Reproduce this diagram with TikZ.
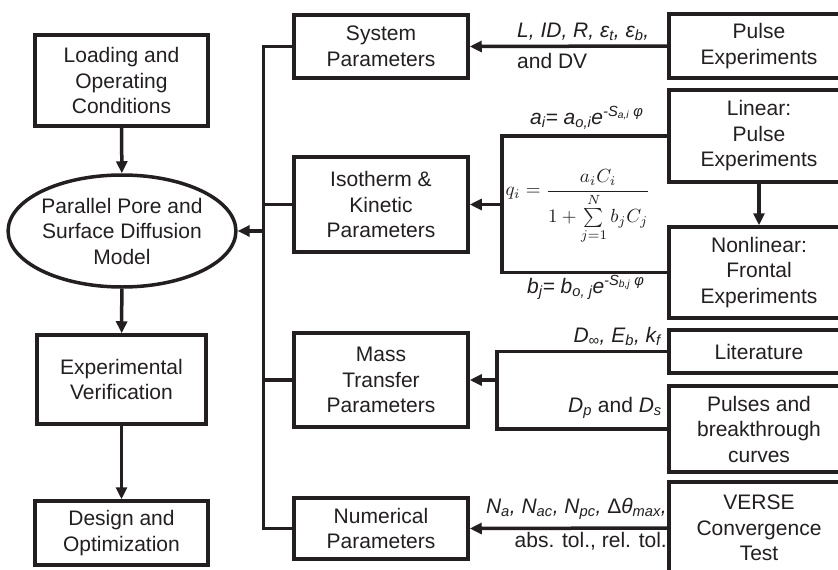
\documentclass[tikz,border=0pt]{standalone}
\usepackage{fontspec}
\setmainfont{Liberation Sans}
\usetikzlibrary{arrows.meta,shapes.geometric}
\definecolor{ink}{HTML}{231F20}
\newcommand\sbs[1]{\textsubscript{#1}}
\newcommand\sps[1]{\textsuperscript{#1}}
\begin{document}
\begin{tikzpicture}[x=1pt,y=-1pt,
  box/.style={draw=ink, line width=3.5pt, rectangle, align=center, inner sep=0pt,
    font=\fontsize{21}{25.5}\selectfont, text=ink},
  oval/.style={box, ellipse},
  conn/.style={draw=ink, line width=3.5pt},
  arr/.style={conn, -{Triangle[length=12pt,width=11pt]}},
  lab/.style={font=\fontsize{21}{25}\selectfont, text=ink, inner sep=0pt}]
\fill[white] (0,0) rectangle (838,570);
\useasboundingbox (0,0) rectangle (838,570);
\clip (0,0) rectangle (838,570);

% left column
\node[box, minimum width=173, minimum height=91] (load) at (121.5,80.5) {Loading and\\Operating\\Conditions};
\node[oval, minimum width=220, minimum height=112] (ppsd) at (122,231) {Parallel Pore and\\Surface Diffusion\\Model};
\node[box, minimum width=169, minimum height=89] (ver) at (121.5,379.5) {Experimental\\Verification};
\node[box, minimum width=173, minimum height=64] (des) at (121.5,533) {Design and\\Optimization};

% parameter boxes
\node[box, minimum width=174, minimum height=63] (sys) at (381,46.5) {System\\Parameters};
\node[box, minimum width=174, minimum height=95] (iso) at (381,204.5) {Isotherm \&\\Kinetic\\Parameters};
\node[box, minimum width=174, minimum height=94] (mass) at (381,380) {Mass\\Transfer\\Parameters};
\node[box, minimum width=174, minimum height=61] (num) at (381,528.5) {Numerical\\Parameters};

% source boxes (cut by the right edge)
\node[box, minimum width=180, minimum height=64] (pulse) at (759,46) {Pulse\\Experiments};
\node[box, minimum width=180, minimum height=92] (lin) at (759,136) {Linear:\\Pulse\\Experiments};
\node[box, minimum width=180, minimum height=91] (nonlin) at (759,272.5) {Nonlinear:\\Frontal\\Experiments};
\node[box, minimum width=180, minimum height=43] (lit) at (759,351.5) {Literature};
\node[box, minimum width=180, minimum height=86] (pbc) at (759,429) {Pulses and\\breakthrough\\curves};
\node[box, minimum width=180, minimum height=92] (verse) at (759,528) {VERSE\\Convergence\\Test};

% left column arrows
\draw[arr] (load) -- (ppsd);
\draw[arr] (ppsd) -- (ver);
\draw[arr] (ver) -- (des);

% bus
\coordinate (busm) at (265,231);
\draw[conn] (sys.west) -- ++(-29,0) |- (num.west);
\draw[conn] (iso.west) -- ++(-29,0);
\draw[conn] (mass.west) -- ++(-29,0);
\draw[arr] (busm) -- (ppsd.east);

% system parameters
\draw[arr] (pulse.west) -- (sys.east);
\node[lab, anchor=base west] (lsysa) at (517,37) {\itshape L, ID, R, ε\sbs{t}, ε\sbs{b},};
\node[lab, anchor=base west] (lsysb) at (517,68) {and DV};

% isotherm bracket
\coordinate (isoj) at (502,204.5);
\draw[conn] (lin.west) -| (isoj) |- (nonlin.west);
\draw[arr] (isoj) -- (iso.east);
\draw[arr] (lin) -- (nonlin);
\node[lab, anchor=base west] (la) at (530,124) {\itshape a\sbs{i}= a\sbs{o,i}e\sps{-S\sbs{a,i} φ}};
\node[lab, anchor=base west] (lb) at (527,293) {\itshape b\sbs{j}= b\sbs{o, j}e\sps{-S\sbs{b,j} φ}};
\node[inner sep=0pt, text=ink] (qform) at (578,207)
  {\scalebox{1.9}{$\displaystyle q_i = \frac{a_iC_i}{1+\sum\limits_{j=1}^{N} b_jC_j}$}};

% mass transfer bracket
\coordinate (massj) at (497,380);
\draw[conn] (lit.west) -| (massj) |- (pbc.west);
\draw[arr] (massj) -- (mass.east);
\node[lab, anchor=base east] (ld) at (661,342) {\itshape D\sbs{∞}, E\sbs{b}, k\sbs{f}};
\node[lab, anchor=base east] (ldp) at (662,412) {\itshape D\sbs{p}\upshape\ and \itshape D\sbs{s}};

% numerical
\draw[arr] (verse.west) -- (num.east);
\node[lab, anchor=base east] (ln) at (667,513) {\itshape N\sbs{a}, N\sbs{ac}, N\sbs{pc}, \upshape Δ\itshape θ\sbs{max},};
\node[lab, anchor=base east] (lt) at (667,547) {abs. tol., rel. tol.};
\end{tikzpicture}
\end{document}
